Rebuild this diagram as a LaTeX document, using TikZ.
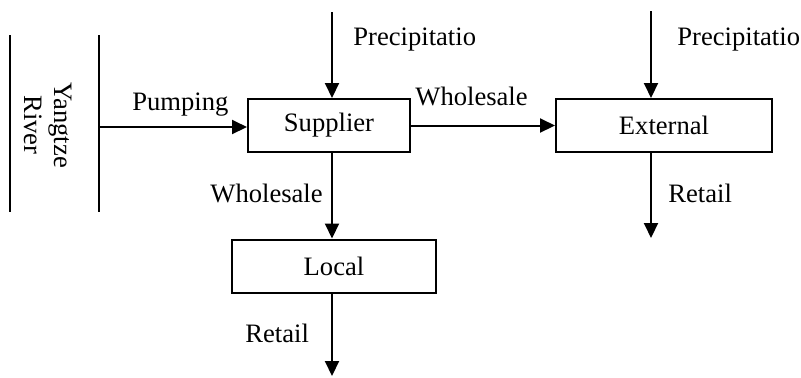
\documentclass[tikz,border=0pt]{standalone}
\usepackage{fontspec}
\setmainfont{Liberation Serif}
\usetikzlibrary{positioning,arrows.meta}

\begin{document}
\begin{tikzpicture}[
    x=0.5pt, y=-0.5pt,
    font=\fontsize{13.3}{15.3}\selectfont,
    box/.style={rectangle, draw, line width=1pt, minimum height=26.5pt, inner sep=0pt},
    lbl/.style={inner sep=0pt, anchor=base west},
    arrow/.style={-{Triangle[length=7.5pt,width=7pt]}, line width=1pt}
]
\useasboundingbox (0,0) rectangle (801,377);

\node[box, minimum width=81pt] (supplier) at (329,125.5) {Supplier};
\node[box, minimum width=108pt] (external) at (664,125.5) {External};
\node[box, minimum width=102pt] (local) at (334,266) {Local};

\coordinate (rain1) at (332,12);
\coordinate (rain2) at (651,11);
\coordinate (pumpstart) at (99,127);
\coordinate (localout) at (332,376);
\coordinate (extout) at (651,238);

% river banks
\draw[line width=1pt] (10,35) -- (10,212);
\draw[line width=1pt] (99,35) -- (99,212);
\node[rotate=-90, align=center, inner sep=0pt] (river) at (48,125) {Yangtze\\River};

\draw[arrow] (pumpstart) -- (pumpstart -| supplier.west);
\draw[arrow] (rain1) -- (rain1 |- supplier.north);
\draw[arrow] (supplier.east) -- (external.west);
\draw[arrow] (rain2) -- (rain2 |- external.north);
\draw[arrow] (rain2 |- external.south) -- (extout);
\draw[arrow] (rain1 |- supplier.south) -- (rain1 |- local.north);
\draw[arrow] (rain1 |- local.south) -- (localout);

\node[lbl] (pumping) at (132,110) {Pumping};
\node[lbl] (precip1) at (353,45) {Precipitatio};
\node[lbl] (precip2) at (677,45) {Precipitatio};
\node[lbl] (whole1) at (415,105) {Wholesale};
\node[lbl] (whole2) at (210,202) {Wholesale};
\node[lbl] (retail1) at (668,202) {Retail};
\node[lbl] (retail2) at (245,342) {Retail};

\end{tikzpicture}
\end{document}
